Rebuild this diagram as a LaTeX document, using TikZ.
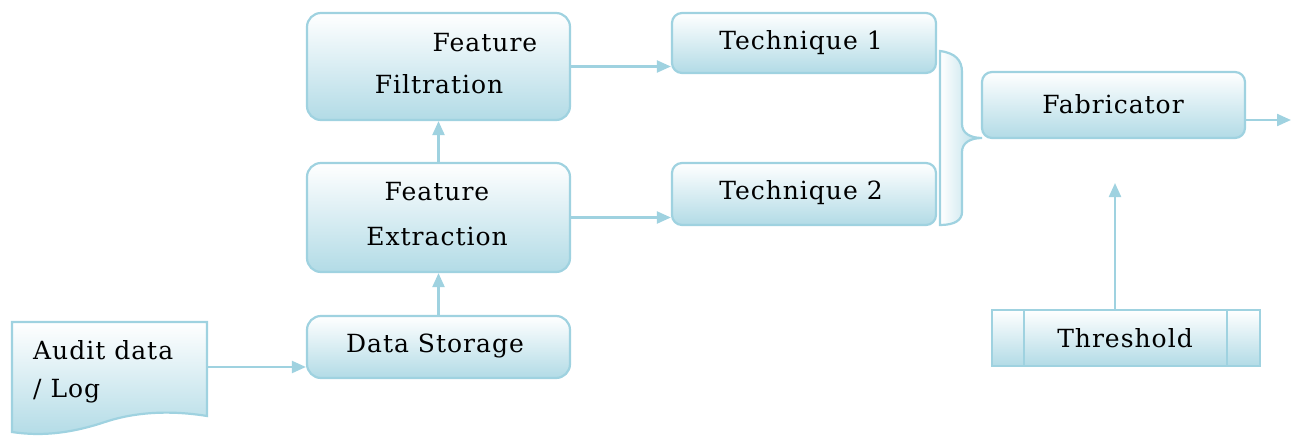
\documentclass[tikz,border=0pt]{standalone}
\usepackage{fontspec}
\setmainfont{DejaVu Serif}[LetterSpace=4]
\usetikzlibrary{arrows.meta}
\definecolor{edge}{HTML}{9FD2E0}
\definecolor{fillbot}{HTML}{B2DBE6}
\tikzset{
  box/.style={draw=edge, line width=2.2pt, rounded corners=14pt,
    top color=white, bottom color=fillbot, inner sep=0pt},
  sqbox/.style={draw=edge, line width=2.2pt, top color=white, bottom color=fillbot, inner sep=0pt},
  lbl/.style={inner sep=0pt, font=\fontsize{25}{29}\selectfont, text=black},
  arr/.style={draw=edge, line width=2.2pt, -{Triangle[length=14pt,width=12pt]}},
}
\begin{document}
\begin{tikzpicture}[x=1pt,y=-1pt]
\useasboundingbox (0,0) rectangle (1291,436);

% input document shape
\path[draw=edge, line width=2.2pt, top color=white, bottom color=fillbot]
  (12,322) -- (207,322) -- (207,416)
  .. controls (170,410) and (135,412) .. (105,422)
  .. controls (75,432) and (45,437) .. (12,432) -- cycle;
\node[lbl, anchor=west] (aud1) at (33,350) {Audit data};
\node[lbl, anchor=west] (aud2) at (33,391) {/ Log};
\coordinate (audout) at (207,367);

% processing boxes
\node[box, minimum width=263pt, minimum height=107pt] (ff) at (438.5,66.5) {};
\node[box, minimum width=263pt, minimum height=109pt] (fe) at (438.5,217.5) {};
\node[box, minimum width=263pt, minimum height=62pt] (ds) at (438.5,347) {};
\node[box, rounded corners=10pt, minimum width=264pt, minimum height=60pt] (t1) at (804,43) {};
\node[box, rounded corners=10pt, minimum width=264pt, minimum height=62pt] (t2) at (804,194) {};
\node[box, rounded corners=10pt, minimum width=263pt, minimum height=66pt] (fab) at (1113.5,105) {};
\node[sqbox, minimum width=268pt, minimum height=56pt] (thr) at (1126,338) {};
\draw[edge, line width=2.2pt] (1024,310) -- (1024,366);
\draw[edge, line width=2.2pt] (1227,310) -- (1227,366);

% labels
\node[lbl] (ffa) at (485,43) {Feature};
\node[lbl] (ffb) at (439,84) {Filtration};
\node[lbl] (fea) at (437,192) {Feature};
\node[lbl] (feb) at (437,236) {Extraction};
\node[lbl] (dsl) at (435,346) {Data Storage};
\node[lbl] (t1l) at (801,43) {Technique 1};
\node[lbl] (t2l) at (801,193) {Technique 2};
\node[lbl] (fabl) at (1113,104) {Fabricator};
\node[lbl] (thrl) at (1125,338) {Threshold};

% brace joining the two techniques
\path[draw=edge, line width=2.2pt, left color=white, right color=fillbot]
  (940,51) .. controls (955,53) and (962,60) .. (962,72)
  -- (962,124) .. controls (962,133) and (970,138) .. (982,138)
  .. controls (970,138) and (962,143) .. (962,152)
  -- (962,212) .. controls (962,220) and (955,225) .. (940,225)
  -- cycle;

% connectors
\draw[arr] (audout) -- (audout -| ds.west);
\draw[arr] (ds.north) -- (fe.south);
\draw[arr] (fe.north) -- (ff.south);
\draw[arr] (ff.east) -- (ff.east -| t1.west);
\draw[arr] (fe.east) -- (fe.east -| t2.west);
\coordinate (thtip) at (1115,183);
\draw[arr] (thtip |- thr.north) -- (thtip);
\coordinate (out) at (1291,120);
\draw[arr] (out -| fab.east) -- (out);
\end{tikzpicture}
\end{document}
